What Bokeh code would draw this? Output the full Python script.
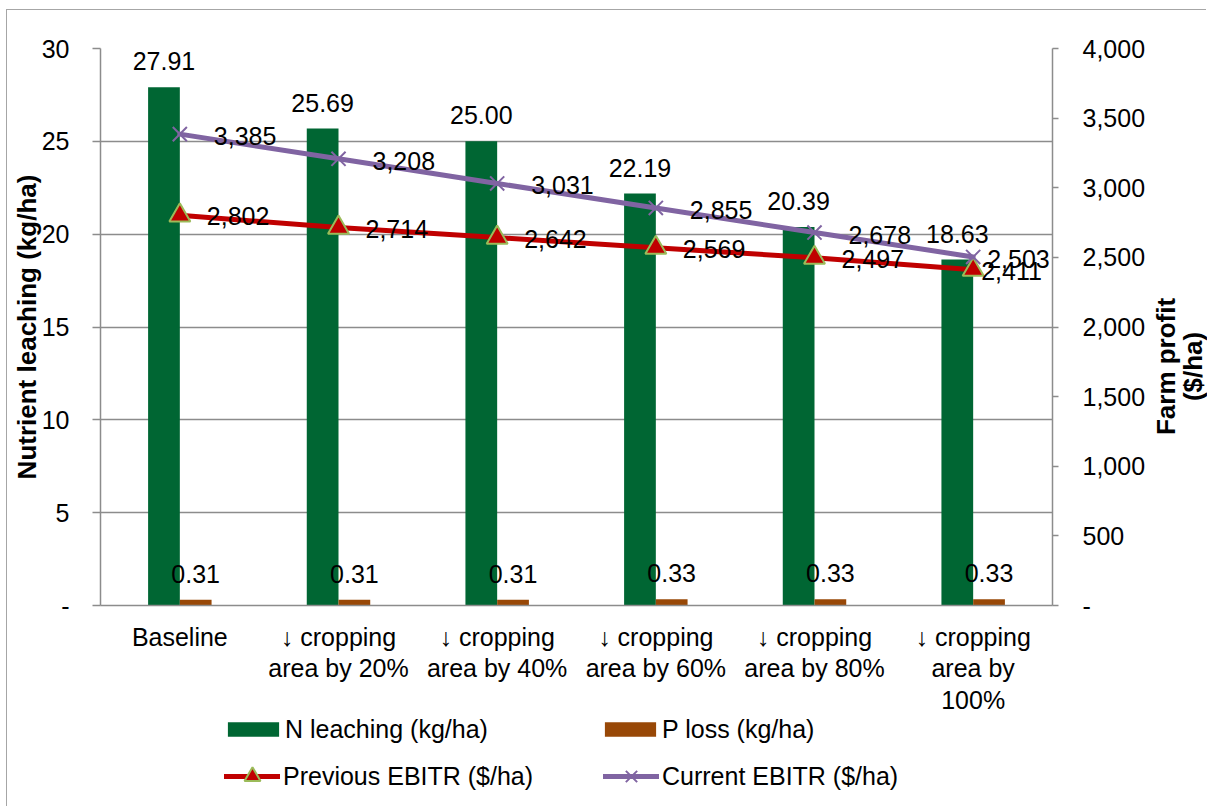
import math

from bokeh.core.properties import value
from bokeh.embed import file_html
from bokeh.layouts import column, row
from bokeh.models import (ColumnDataSource, FactorRange, FixedTicker, Label, LabelSet,
                          Legend, LegendItem, LinearAxis, NumeralTickFormatter, Range1d)
from bokeh.plotting import figure
from bokeh.resources import INLINE
from bokeh.transform import dodge

# ---- data -------------------------------------------------------------
scenarios = [
    "Baseline",
    "↓ cropping\narea by 20%",
    "↓ cropping\narea by 40%",
    "↓ cropping\narea by 60%",
    "↓ cropping\narea by 80%",
    "↓ cropping\narea by\n100%",
]
n_leaching = [27.91, 25.69, 25.00, 22.19, 20.39, 18.63]
p_loss = [0.31, 0.31, 0.31, 0.33, 0.33, 0.33]
previous_ebitr = [2802, 2714, 2642, 2569, 2497, 2411]
current_ebitr = [3385, 3208, 3031, 2855, 2678, 2503]

left_ticks = [0, 5, 10, 15, 20, 25, 30]
right_ticks = [0, 500, 1000, 1500, 2000, 2500, 3000, 3500, 4000]

# ---- styling ----------------------------------------------------------
FONT = "Liberation Sans"
GREEN = "#006633"
BROWN = "#984807"
RED = "#C00000"
PURPLE = "#8064A2"
OLIVE = "#9BBB59"
GRID = "#8C8C8C"
FS = "25px"
TITLE_FS = "26px"

PLOT_W = 1143
PLOT_H = 706

src = ColumnDataSource(dict(
    scenario=scenarios,
    n=n_leaching,
    p=p_loss,
    n_txt=[f"{v:.2f}" for v in n_leaching],
    p_txt=[f"{v:.2f}" for v in p_loss],
    prev=previous_ebitr,
    cur=current_ebitr,
))

p = figure(
    x_range=FactorRange(factors=scenarios, range_padding=0),
    y_range=Range1d(0, 30),
    width=PLOT_W, height=PLOT_H,
    output_backend="svg", toolbar_location=None,
    min_border_left=93, min_border_right=PLOT_W - 1045,
    min_border_top=38, min_border_bottom=PLOT_H - 598,
)
p.outline_line_color = None
p.extra_y_ranges = {"profit": Range1d(0, 4000)}

# ---- grid & axes ------------------------------------------------------
p.xgrid.grid_line_color = None
p.ygrid.grid_line_color = GRID
p.ygrid.grid_line_width = 1.5

xa = p.xaxis[0]
xa.axis_line_color = GRID
xa.axis_line_width = 1.5
xa.major_tick_line_color = None
xa.minor_tick_line_color = None
xa.major_label_standoff = 11
xa.major_label_text_font = FONT
xa.major_label_text_font_size = FS
xa.major_label_text_color = "black"
xa.major_label_text_line_height = 1.13

ya = p.yaxis[0]
ya.ticker = FixedTicker(ticks=left_ticks)
ya.major_label_overrides = {0: "-"}
ya.axis_line_color = GRID
ya.axis_line_width = 1.5
ya.major_tick_line_color = GRID
ya.major_tick_line_width = 1.5
ya.major_tick_out = 8
ya.major_tick_in = 0
ya.minor_tick_line_color = None
ya.major_label_standoff = 23
ya.major_label_text_font = FONT
ya.major_label_text_font_size = FS
ya.major_label_text_color = "black"
ya.axis_label = "Nutrient leaching (kg/ha)"
ya.axis_label_text_font = FONT
ya.axis_label_text_font_size = TITLE_FS
ya.axis_label_text_font_style = "bold"
ya.axis_label_text_color = "black"
ya.axis_label_standoff = -3

ra = LinearAxis(
    y_range_name="profit",
    ticker=FixedTicker(ticks=right_ticks),
    formatter=NumeralTickFormatter(format="0,0"),
    major_label_overrides={0: "-"},
    axis_line_color=GRID, axis_line_width=1.5,
    major_tick_line_color=GRID, major_tick_line_width=1.5,
    major_tick_out=6, major_tick_in=0,
    minor_tick_line_color=None,
    major_label_standoff=24,
    major_label_text_align="left",
    major_label_text_font=FONT, major_label_text_font_size=FS,
    major_label_text_color="black",
)
p.add_layout(ra, "right")

# ---- bars -------------------------------------------------------------
bar_n = dict(fill_color=GREEN, line_color=None)
bar_p = dict(fill_color=BROWN, line_color=None)
p.vbar(x=dodge("scenario", -0.1, range=p.x_range), top="n", width=0.2, source=src, **bar_n)
p.vbar(x=dodge("scenario", 0.1, range=p.x_range), top="p", width=0.2, source=src, **bar_p)

# ---- profit lines -----------------------------------------------------
prev_line_style = dict(line_color=RED, line_width=5, line_cap="round")
prev_mark_style = dict(marker="triangle", size=21, fill_color=RED, line_color=OLIVE,
                       line_width=2)
cur_line_style = dict(line_color=PURPLE, line_width=5, line_cap="round")
cur_mark_style = dict(marker="x", size=20, line_color=PURPLE, line_width=2)

p.line(x="scenario", y="prev", source=src, y_range_name="profit", **prev_line_style)
p.scatter(x="scenario", y="prev", source=src, y_range_name="profit", **prev_mark_style)
p.line(x="scenario", y="cur", source=src, y_range_name="profit", **cur_line_style)
p.scatter(x="scenario", y="cur", source=src, y_range_name="profit", **cur_mark_style)

# ---- value labels -----------------------------------------------------
label_style = dict(text_font=value(FONT), text_font_size=value(FS), text_color="black")

p.add_layout(LabelSet(x=dodge("scenario", -0.1, range=p.x_range), y="n", text="n_txt",
                      source=src, text_align="center", text_baseline="alphabetic",
                      y_offset=17, **label_style))
p.add_layout(LabelSet(x=dodge("scenario", 0.1, range=p.x_range), y="p", text="p_txt",
                      source=src, text_align="center", text_baseline="alphabetic",
                      y_offset=17, **label_style))

# single labels on the profit lines; x is the synthetic centre of each category.
# The last pair is nudged left so it stays inside the plot frame.
line_label_style = dict(text_font=FONT, text_font_size=FS, text_color="black",
                        text_align="left", text_baseline="middle")
last = len(scenarios) - 1
for i, v in enumerate(current_ebitr):
    p.add_layout(Label(x=i + 0.5, y=v, y_range_name="profit", text=f"{v:,}",
                       x_offset=34 if i < last else 14, y_offset=-2, **line_label_style))
for i, v in enumerate(previous_ebitr):
    p.add_layout(Label(x=i + 0.5, y=v, y_range_name="profit", text=f"{v:,}",
                       x_offset=27 if i < last else 8, y_offset=-1, **line_label_style))

# ---- secondary axis title, set in its own narrow strip ----------------
t = figure(width=1200 - PLOT_W, height=PLOT_H, x_range=Range1d(0, 1), y_range=Range1d(0, 1),
           output_backend="svg", toolbar_location=None,
           x_axis_location=None, y_axis_location=None,
           min_border_left=0, min_border_right=0, min_border_top=0, min_border_bottom=0)
t.outline_line_color = None
t.grid.visible = False
t.text(x=[0.5], y=[1 - 403 / PLOT_H], text=["Farm profit\n($/ha)"], angle=math.pi / 2,
       text_align="center", text_baseline="middle", text_font=value(FONT),
       text_font_size=value(TITLE_FS), text_font_style="bold", text_color="black",
       text_line_height=0.9)

# ---- legend strip -----------------------------------------------------
# key renderers reuse the series styles; their points lie outside this strip's view
lf = figure(width=1200, height=797 - PLOT_H, x_range=Range1d(-2, -1), y_range=Range1d(-2, -1),
            output_backend="svg", toolbar_location=None,
            x_axis_location=None, y_axis_location=None,
            min_border_left=0, min_border_right=0, min_border_top=0, min_border_bottom=0)
lf.outline_line_color = None
lf.grid.visible = False
k_n = lf.vbar(x="n", top="n", width=0.2, source=src, **bar_n)
k_p = lf.vbar(x="p", top="p", width=0.2, source=src, **bar_p)
k_prev_l = lf.line(x="prev", y="prev", source=src, **prev_line_style)
k_prev_m = lf.scatter(x="prev", y="prev", source=src, **prev_mark_style)
k_cur_l = lf.line(x="cur", y="cur", source=src, **cur_line_style)
k_cur_m = lf.scatter(x="cur", y="cur", source=src, **cur_mark_style)

legend_text = dict(label_text_font=FONT, label_text_font_size=FS,
                   label_text_color="black", padding=0, margin=0, spacing=0,
                   border_line_color=None, background_fill_alpha=0,
                   orientation="horizontal")
lf.add_layout(Legend(
    items=[LegendItem(label="N leaching (kg/ha)", renderers=[k_n]),
           LegendItem(label="P loss (kg/ha)", renderers=[k_p])],
    location=(214, 63), glyph_width=64, glyph_height=18, label_height=30,
    label_standoff=0, label_width=313, **legend_text))
lf.add_layout(Legend(
    items=[LegendItem(label="Previous EBITR ($/ha)", renderers=[k_prev_l, k_prev_m]),
           LegendItem(label="Current EBITR ($/ha)", renderers=[k_cur_l, k_cur_m])],
    location=(217, 11), glyph_width=56, glyph_height=40, label_height=40,
    label_standoff=3, label_width=320, **legend_text))

layout = column(row(p, t, spacing=0), lf, spacing=0, margin=(10, 0, 0, 7))
layout.styles = {"box-shadow": "-1px -1px 0 0 #A6A6A6"}

open("out.html", "w").write(file_html(layout, INLINE))
